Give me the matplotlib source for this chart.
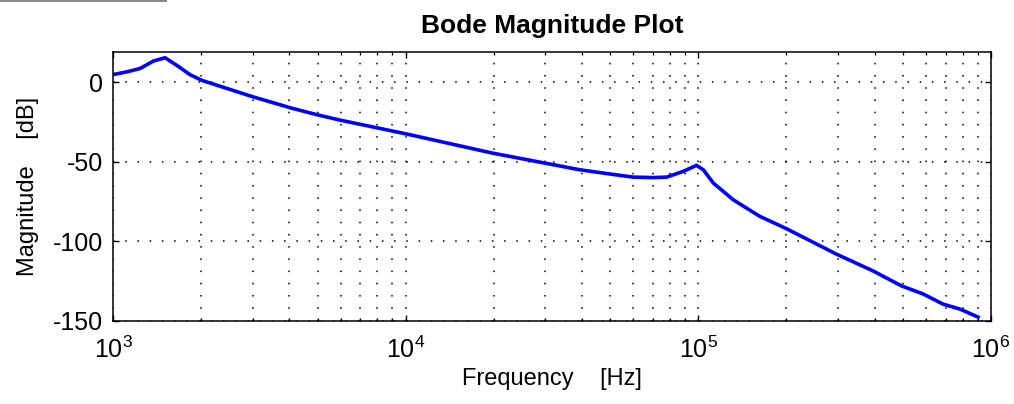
import matplotlib
matplotlib.use("Agg")
import matplotlib.pyplot as plt
from matplotlib.lines import Line2D
from matplotlib.ticker import LogLocator, FixedLocator, NullFormatter, FixedFormatter

plt.rcParams['font.family'] = ['Liberation Sans', 'DejaVu Sans']
plt.rcParams['mathtext.default'] = 'regular'
plt.rcParams['axes.unicode_minus'] = False

freq_hz = [1000, 1113, 1236, 1374, 1506, 1652, 1832, 2010, 3014, 4027, 5025,
           5970, 10070, 19900, 29900, 39400, 49200, 59900, 70000, 78000,
           88800, 98600, 104000, 112500, 131500, 162000, 200000, 296500,
           395000, 494000, 586000, 686000, 783000, 915000]
mag_db = [4.8, 6.5, 8.6, 13.3, 15.4, 10.6, 4.8, 1.2, -9.2, -16.0, -20.6,
          -23.8, -32.5, -44.6, -50.8, -55.0, -57.5, -59.6, -59.9, -59.6,
          -56.0, -52.2, -55.0, -63.3, -73.8, -84.2, -92.0, -108.0,
          -118.5, -127.9, -133.0, -139.4, -142.5, -148.0]

y_ticks = [-150, -100, -50, 0]
x_ticks = [1e3, 1e4, 1e5, 1e6]
x_tick_labels = ['$10^{3}$', '$10^{4}$', '$10^{5}$', '$10^{6}$']

title = 'Bode Magnitude Plot'
xlabel = 'Frequency    [Hz]'
ylabel = 'Magnitude    [dB]'

fig = plt.figure(figsize=(10.14, 4.04), dpi=100)
ax = fig.add_axes([113/1014, 1-321/404, (991-113)/1014, (321-52)/404])

ax.semilogx(freq_hz, mag_db, color=(0, 0, 1), linewidth=2.6, solid_capstyle='butt',
            solid_joinstyle='round')

ax.set_xlim(1e3, 1e6)
ax.set_ylim(-150, 19)

ax.xaxis.set_major_locator(FixedLocator(x_ticks))
ax.xaxis.set_major_formatter(FixedFormatter(x_tick_labels))
ax.xaxis.set_minor_locator(LogLocator(base=10, subs=range(2, 10), numticks=20))
ax.xaxis.set_minor_formatter(NullFormatter())
ax.yaxis.set_major_locator(FixedLocator(y_ticks))

grid_style = dict(color='black', linestyle=(0, (1, 7)), linewidth=1.1)
ax.grid(True, which='major', axis='both', **grid_style)
ax.grid(True, which='minor', axis='x', **grid_style)

ax.tick_params(which='both', direction='in', top=True, right=True, colors='black',
               labelsize=18)
ax.tick_params(which='major', length=4, width=1.0)
ax.tick_params(which='minor', length=2.5, width=0.9)
ax.tick_params(axis='y', pad=7)
ax.tick_params(axis='x', pad=11)

for s in ax.spines.values():
    s.set_linewidth(1.1)
    s.set_color('black')

ax.set_title(title, fontsize=19, fontweight='bold', pad=14)
ax.set_xlabel(xlabel, fontsize=17, labelpad=4)
ax.set_ylabel(ylabel, fontsize=17, labelpad=10)

# gray artifact line at top-left
fig.add_artist(Line2D([0, 166/1014], [1-1/404, 1-1/404], color='#8a8a8a', linewidth=1.5))

fig.savefig('out.png', dpi=100)
